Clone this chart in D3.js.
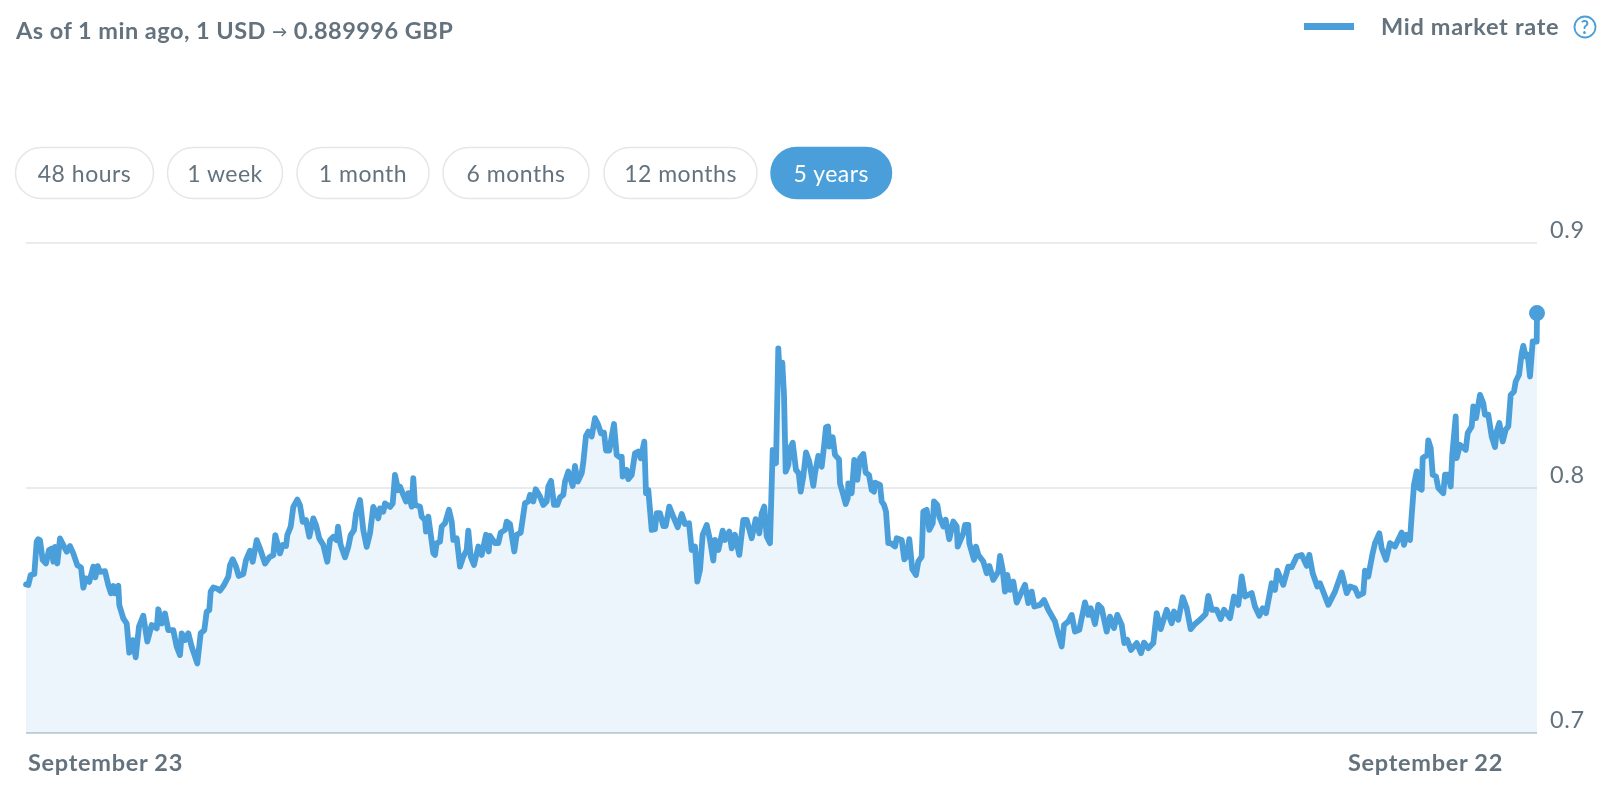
<!DOCTYPE html>
<html><head><meta charset="utf-8">
<style>html,body{margin:0;padding:0;background:#fff;overflow:hidden}svg{display:block;font-family:Lato,"Open Sans",sans-serif}</style>
<script src="https://cdn.jsdelivr.net/npm/d3@7"></script>
</head><body><svg id="c" width="1600" height="789"></svg>
<script>
const titleParts = ["As of 1 min ago, 1 USD ","→"," 0.889996 GBP"];
const legendText = "Mid market rate";
const rangeLabels = ["48 hours","1 week","1 month","6 months","12 months","5 years"];
const activeRange = "5 years";
const yTicks = [0.7,0.8,0.9];
const xTickLabels = ["September 23","September 22"];
const xTickAt = [2,1322];
// position along the five-year span (0..1511)
const period = [0,2.3,4.7,8.3,10.7,12.3,14,16.7,20,23,25.7,27.3,29,31.3,34,37.3,40.7,44,47.3,51.3,55,57.3,60,63.3,67.3,69.3,71.7,74,79,82.3,85,87.3,89,92.3,93.3,97.3,100.7,103.3,106.7,109.7,113,117.3,121.3,125.7,130.7,132.3,135.7,139,142.3,147.3,150.7,154,155.7,159,162.3,165.7,171.3,174.7,178.3,180.7,183.3,184.7,187.3,190.7,194,198,202.3,204,206.7,210,212.7,217.3,220,224,226.7,230.7,234,239,243.3,247.3,249.3,254,256.7,260,261.3,264.7,267.3,271.3,274,276.7,280,283.3,287.3,290,293.3,297.3,301.3,304,307.3,310.7,312,314.7,319,322.3,324.7,328,330,334,337.3,340.7,344,347.3,352.3,354,357.3,359,364,366.7,369,372.3,
374,377.3,380,382.3,385.7,387.3,389,394,395.7,399,400,402.3,407.3,409,410.7,414,415.7,419,423,425.7,427.3,430.7,434,437.3,440.7,442.3,444.7,448,452.3,455.7,460,462.7,464,469,472.3,474.7,479,480.7,484,488.3,490.7,494.7,499,502.3,504,507.3,509.7,514,517.3,520.7,522.3,525,528,531.3,534,537.3,539,542.3,546.7,549,551.7,555.7,557.3,560,562.3,565.7,569,572.3,575,578,580,583.3,585.7,588,590.7,594,595.7,596.7,600.7,602.3,605.7,609,612.3,614.7,618.3,620,622.3,625.7,629,630.7,634,637.3,639.7,643.3,647.3,651.7,655.7,659,663,665.7,669,671.3,674,676.7,680.7,684,687.3,689,692.3,696.7,699,703.3,705.7,709,713.3,717.3,720.7,725.7,729.7,733.3,735.7,738.3,740.7,744,
746.7,750,752.3,754,756.3,758,759.7,762.3,764,766.7,770,772.7,774.7,777.3,780,783.3,787.3,789,792.3,795.7,798,800,802,803.3,806.7,809,813,814,817.3,819.7,821.7,822.3,825.7,828.3,831.3,834,837.3,839.7,843,845.7,848,849,854,855.7,858,860,862.3,864.7,869,870.7,875.7,878.3,880.7,883.3,886.3,890,892.3,895.7,897.3,900.7,903.3,906.7,908,911.3,913.3,917.3,919.7,923.3,927.3,930.7,931.7,937.3,939,942.3,943.3,948,950,952.3,957.3,960.7,963.3,967.3,972.3,974,976.7,979,981.3,984,987.3,990.7,995.7,999,1002.3,1005.7,1008.3,
1014,1018,1022.3,1029,1032.3,1035.7,1038,1042.3,1045.7,1049,1053.3,1055.7,1059,1062.3,1064.7,1069,1072.3,1075.7,1080.7,1084,1088,1091.3,1095.7,1098.3,1101.3,1105,1110.7,1115,1118,1122.3,1127.3,1130.7,1134.7,1140.7,1145.7,1148,1152.3,1156.7,1160.7,1164.7,1169,1174,1179.7,1182.3,1185.7,1190.7,1194.7,1198,1204,1208,1212.3,1215.7,1219,1225.7,1229,1233.3,1236.7,1240,1245.7,1249,1251.3,1257.3,1262.3,1265.7,1270.7,1275.7,1280.7,1283.3,1286.7,1291.3,1294,1302.3,1309,1315.7,1320.7,1324,1329,1332.3,1337.3,1339,1342.3,1346.3,1349,1353.3,1355.7,1360,1364,1369,1375.7,1378,1380.7,1384,1385.7,
1388,1390.7,1393,1395.7,1396.7,1401.3,1402.3,1404.7,1406.7,1410,1412.3,1417.3,1419,1422.3,1424.7,1426.3,1429.7,1430.7,1434,1439.7,1441.7,1445.7,1447.3,1450,1454,1457.3,1459,1462.3,1465.7,1469,1470.7,1473.3,1476.7,1479.7,1482.3,1484.7,1488,1489.7,1493,1495.7,1497.3,1499.7,1501.7,1504,1506.7,1510.7,1511];
const rate = [.7606,.7604,.7645,.7649,.7781,.7791,.7787,.7706,.7692,.7747,.7753,.7699,.7760,.7692,.7794,.7767,.7740,.7763,.7733,.7685,.7676,.7593,.7631,.7617,.7679,.7635,.7681,.7658,.7661,.7604,.7570,.7600,.7570,.7601,.7522,.7468,.7447,.7328,.7379,.7309,.7434,.7479,.7373,.7441,.7427,.7505,.7447,.7488,.7420,.7420,.7352,.7318,.7407,.7379,.7407,.7352,.7284,.7407,.7420,.7495,.7502,.7577,.7594,.7590,.7581,.7604,.7638,.7685,.7709,.7679,.7641,.7649,.7706,.7744,.7699,.7787,.7753,.7692,.7717,.7726,.7808,.7733,.7767,.7763,.7808,.7842,.7923,.7953,.7930,.7862,.7869,.7801,.7876,.7849,.7794,.7767,.7699,.7787,.7801,.7787,.7842,.7767,.7717,.7760,.7808,.7828,.7896,.7951,.7828,.7760,.7815,.7923,.7876,.7917,.7903,.7937,.7923,.7937,.8053,.7991,
.8006,.7972,.7945,.7979,.7924,.8040,.7931,.7924,.7883,.7870,.7822,.7883,.7734,.7727,.7775,.7781,.7843,.7856,.7911,.7863,.7788,.7795,.7679,.7720,.7747,.7826,.7720,.7686,.7761,.7727,.7809,.7741,.7805,.7775,.7775,.7818,.7829,.7863,.7853,.7741,.7809,.7818,.7938,.7945,.7972,.7945,.7995,.7965,.7931,.7945,.8006,.8029,.7931,.7931,.7962,.7972,.8026,.8067,.8008,.8090,.8026,.8060,.8104,.8213,.8230,.8210,.8285,.8257,.8223,.8226,.8153,.8153,.8210,.8261,.8135,.8125,.8128,.8047,.8074,.8036,.8053,.8142,.8149,.8121,.8189,.7979,.7992,.7829,.7832,.7897,.7897,.7845,.7845,.7924,.7883,.7840,.7894,.7853,.7856,.7747,.7761,.7618,.7666,.7809,.7849,.7788,.7704,.7788,.7747,.7826,.7788,.7822,.7754,.7809,.7727,.7870,.7870,.7795,.7873,.7815,.7897,.7924,.7802,.7775,
.8155,.8101,.8570,.8441,.8512,.8380,.8067,.8094,.8162,.8185,.8074,.8060,.7985,.8047,.8145,.8108,.8009,.8060,.8131,.8087,.8169,.8248,.8251,.8169,.8207,.8135,.8117,.8019,.7972,.7935,.7958,.8019,.7979,.8115,.8033,.8121,.8139,.8063,.8053,.7992,.7985,.8022,.8013,.7945,.7931,.7904,.7775,.7775,.7761,.7795,.7788,.7709,.7720,.7791,.7669,.7645,.7700,.7720,.7904,.7911,.7829,.7856,.7945,.7931,.7883,.7843,.7870,.7791,.7863,.7843,.7761,.7815,.7849,.7849,.7775,.7707,.7761,.7727,.7700,.7652,.7682,.7625,.7659,.7723,.7666,.7577,.7645,.7584,.7618,.7532,.7577,.7605,.7530,.7577,.7516,
.7523,.7543,.7503,.7455,.7401,.7353,.7441,.7455,.7482,.7414,.7421,.7469,.7533,.7482,.7509,.7445,.7523,.7509,.7414,.7475,.7428,.7482,.7441,.7367,.7380,.7339,.7367,.7326,.7369,.7346,.7367,.7489,.7424,.7503,.7448,.7496,.7462,.7554,.7509,.7424,.7445,.7462,.7486,.7560,.7503,.7503,.7465,.7503,.7469,.7557,.7523,.7639,.7557,.7571,.7516,.7478,.7509,.7489,.7611,.7584,.7663,.7605,.7679,.7677,.7720,.7727,.7682,.7727,.7652,.7598,.7611,.7523,.7577,.7655,.7571,.7598,.7591,.7560,.7571,.7663,.7639,.7727,.7775,.7815,.7754,.7707,.7775,.7761,.7818,.7768,.7809,.7788,.7890,
.8013,.8068,.8000,.7993,.8122,.8136,.8194,.8163,.8054,.8047,.8000,.7979,.8054,.8054,.8006,.8136,.8292,.8122,.8176,.8156,.8224,.8251,.8333,.8285,.8380,.8346,.8299,.8299,.8210,.8167,.8231,.8265,.8190,.8238,.8251,.8380,.8394,.8435,.8462,.8550,.8580,.8537,.8544,.8455,.8598,.8598,.8714];

const BLUE="#4a9fda", TEXT="#63727d", FILL="#ecf5fc", GRID="#e9ebec", BASE="#c9d5dd";
const svg=d3.select("#c");
const pts=d3.zip(period,rate);
const x=d3.scaleLinear().domain([0,1511]).range([26,1537]);
const y=d3.scaleLinear().domain([0.7,0.9]).range([733,243]);

svg.append("text").attr("x",16).attr("y",39).attr("fill",TEXT).attr("font-size",23.5).attr("font-weight",700).attr("letter-spacing",0.47)
  .selectAll("tspan").data(titleParts).join("tspan").attr("font-size",(d,i)=>i===1?15:null).attr("dy",(d,i)=>i===1?-2:i===2?2:0).text(d=>d);

// legend
const legendScale=d3.scaleLinear().domain([0,1]).range([1304,1354]);
svg.append("line").attr("x1",legendScale(0)).attr("x2",legendScale(1)).attr("y1",26.5).attr("y2",26.5).attr("stroke",BLUE).attr("stroke-width",7);
svg.append("text").attr("x",1381).attr("y",34.5).attr("fill",TEXT).attr("font-size",23.5).attr("font-weight",700).attr("letter-spacing",0.7).text(legendText);
svg.append("circle").attr("cx",1585).attr("cy",27).attr("r",10.5).attr("fill","none").attr("stroke",BLUE).attr("stroke-width",1.8);
svg.append("text").attr("x",1585).attr("y",33.5).attr("text-anchor","middle").attr("fill",BLUE).attr("font-size",18).attr("font-weight",700).text("?");

// range buttons
const btnEdges=[[15.5,153.5],[167.5,282.5],[297,429],[443,589],[604,757],[771,891.5]];
const btn=svg.append("g").selectAll("g").data(rangeLabels).join("g");
btn.append("rect").attr("x",(d,i)=>btnEdges[i][0]).attr("y",147.5).attr("width",(d,i)=>btnEdges[i][1]-btnEdges[i][0]).attr("height",51).attr("rx",25.5)
  .attr("fill",d=>d===activeRange?BLUE:"#fff").attr("stroke",d=>d===activeRange?BLUE:"#e6e6e6").attr("stroke-width",1.5);
btn.append("text").attr("x",(d,i)=>(btnEdges[i][0]+btnEdges[i][1])/2).attr("y",182).attr("text-anchor","middle")
  .attr("fill",d=>d===activeRange?"#fff":TEXT).attr("font-size",23).attr("letter-spacing",0.5).text(d=>d);

// area, then grid, then line
svg.append("path").datum(pts).attr("fill",FILL).attr("d",d3.area().x(d=>x(d[0])).y0(y(0.7)).y1(d=>y(d[1])));
svg.append("g").selectAll("line").data(yTicks).join("line").attr("x1",x(0)).attr("x2",x(1511)).attr("y1",d=>y(d)).attr("y2",d=>y(d))
  .attr("stroke",d=>d===0.7?BASE:GRID).attr("stroke-width",2).style("mix-blend-mode","multiply");
svg.append("path").datum(pts).attr("fill","none").attr("stroke",BLUE).attr("stroke-width",5.8).attr("stroke-linejoin","round").attr("stroke-linecap","round")
  .attr("d",d3.line().x(d=>x(d[0])).y(d=>y(d[1])));
const last=pts[pts.length-1];
svg.append("circle").attr("cx",x(last[0])).attr("cy",y(last[1])).attr("r",8).attr("fill",BLUE);

// y axis labels
const yAxis=d3.axisRight(y).tickValues(yTicks).tickSize(0).tickPadding(0).tickFormat(d3.format(".1f"));
const gy=svg.append("g").attr("transform","translate(1550,0)").call(yAxis);
gy.select(".domain").remove();
gy.selectAll("text").attr("fill",TEXT).attr("font-size",23.5).attr("font-family","Lato,sans-serif").attr("letter-spacing",0.6).attr("dy",null).attr("y",-6).attr("dominant-baseline","auto");

// x labels
svg.append("g").selectAll("text").data(xTickLabels).join("text").attr("x",(d,i)=>x(xTickAt[i])).attr("y",771)
  .attr("fill",TEXT).attr("font-size",23.5).attr("font-weight",700).attr("letter-spacing",0.7).text(d=>d);
</script></body></html>
